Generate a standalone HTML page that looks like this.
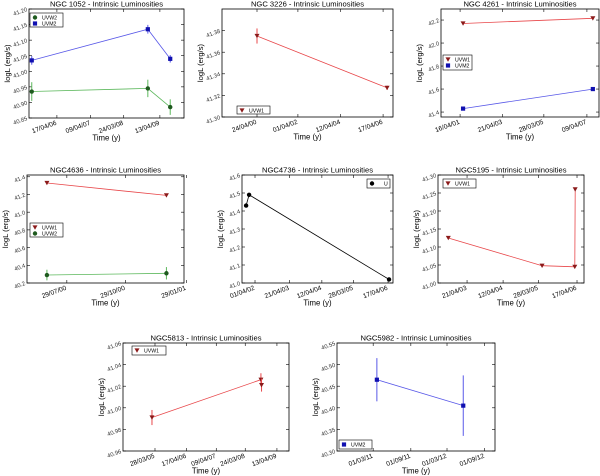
<!DOCTYPE html>
<html><head><meta charset="utf-8">
<style>
html,body{margin:0;padding:0;background:#fff;}
svg{display:block;font-family:"Liberation Sans",sans-serif;}
</style></head>
<body>
<svg id="fig" width="600" height="476" viewBox="0 0 600 476" xmlns="http://www.w3.org/2000/svg"></svg>
<script>
// ---- data (decimal years, logL) ----
const p1Times = [2005.56, 2008.93, 2009.58];
const p1Uvw2 = [40.935, 40.945, 40.885];
const p1Uvw2Err = [0.03, 0.028, 0.025];
const p1Uvm2 = [41.035, 41.135, 41.04];
const p1Uvm2Err = [0.014, 0.014, 0.012];
const p1TickYears = [2006.29, 2007.27, 2008.23, 2009.28];
const p1TickLabels = ["17/04/06", "09/04/07", "24/03/08", "13/04/09"];
const p1YTicks = [40.85, 40.90, 40.95, 41.00, 41.05, 41.10, 41.15, 41.20];

const p2Times = [2000.31, 2006.48];
const p2Uvw1 = [41.375, 41.327];
const p2Uvw1Err = [0.007, 0.002];
const p2TickYears = [2000.31, 2002.25, 2004.28, 2006.29];
const p2TickLabels = ["24/04/00", "01/04/02", "12/04/04", "17/04/06"];
const p2YTicks = [41.30, 41.32, 41.34, 41.36, 41.38];

const p3Times = [2001.43, 2007.55];
const p3Uvw1 = [42.17, 42.215];
const p3Uvm2 = [41.43, 41.60];
const p3TickYears = [2001.29, 2003.30, 2005.24, 2007.27];
const p3TickLabels = ["16/04/01", "21/04/03", "28/03/05", "09/04/07"];
const p3YTicks = [41.4, 41.6, 41.8, 42.0, 42.2];

const p4Times = [2000.485, 2000.995];
const p4Uvw1 = [41.33, 41.19];
const p4Uvw2 = [40.29, 40.31];
const p4Uvw2Err = [0.06, 0.07];
const p4TickYears = [2000.57, 2000.82, 2001.08];
const p4TickLabels = ["29/07/00", "29/10/00", "29/01/01"];
const p4YTicks = [40.2, 40.4, 40.6, 40.8, 41.0, 41.2, 41.4];

const p5Times = [2001.98, 2002.07, 2006.32];
const p5U = [41.43, 41.49, 41.02];
const p5TickYears = [2002.25, 2003.30, 2004.28, 2005.24, 2006.29];
const p5TickLabels = ["01/04/02", "21/04/03", "12/04/04", "28/03/05", "17/04/06"];
const p5YTicks = [41.0, 41.1, 41.2, 41.3, 41.4, 41.5, 41.6];

const p6Times = [2002.79, 2005.34, 2006.23, 2006.24];
const p6Uvw1 = [41.125, 41.048, 41.045, 41.26];
const p6TickYears = [2003.30, 2004.28, 2005.24, 2006.29];
const p6TickLabels = ["21/04/03", "12/04/04", "28/03/05", "17/04/06"];
const p6YTicks = [41.00, 41.05, 41.10, 41.15, 41.20, 41.25, 41.30];

const p7Times = [2005.14, 2008.75, 2008.77];
const p7Uvw1 = [40.991, 41.026, 41.021];
const p7Uvw1Err = [0.007, 0.006, 0.006];
const p7TickYears = [2005.24, 2006.29, 2007.27, 2008.23, 2009.28];
const p7TickLabels = ["28/03/05", "17/04/06", "09/04/07", "24/03/08", "13/04/09"];
const p7YTicks = [40.96, 40.98, 41.00, 41.02, 41.04, 41.06];

const p8Times = [2011.21, 2012.38];
const p8Uvm2 = [40.465, 40.405];
const p8Uvm2Err = [0.05, 0.07];
const p8TickYears = [2011.16, 2011.67, 2012.16, 2012.67];
const p8TickLabels = ["01/03/11", "01/09/11", "01/03/12", "01/09/12"];
const p8YTicks = [40.30, 40.35, 40.40, 40.45, 40.50, 40.55];

// ---- styles ----
const STY = {
  UVW1: {line: "#e8474a", mk: "#8b1a1a", shape: "tri"},
  UVW2: {line: "#5cb85c", mk: "#1e5a1e", shape: "circ"},
  UVM2: {line: "#5858e8", mk: "#1010b0", shape: "sq"},
  U: {line: "#000", mk: "#000", shape: "circ"}
};

const panels = [
  {id:"ngc1052", title:"NGC 1052 - Intrinsic Luminosities", box:[29,9,184,118], xlim:[2005.48,2009.98], ylim:[40.85,41.20], dec:2,
   xt:p1TickYears, xl:p1TickLabels, yt:p1YTicks,
   series:[{n:"UVW2",x:p1Times,y:p1Uvw2,e:p1Uvw2Err},{n:"UVM2",x:p1Times,y:p1Uvm2,e:p1Uvm2Err}], leg:[30,13,33,14]},
  {id:"ngc3226", title:"NGC 3226 - Intrinsic Luminosities", box:[222,9,393,117], xlim:[1998.65,2006.76], ylim:[41.30,41.40], dec:2,
   xt:p2TickYears, xl:p2TickLabels, yt:p2YTicks,
   series:[{n:"UVW1",x:p2Times,y:p2Uvw1,e:p2Uvw1Err}], leg:[237,106,33,8]},
  {id:"ngc4261", title:"NGC 4261 - Intrinsic Luminosities", box:[441,9,599,117], xlim:[2000.39,2007.84], ylim:[41.357,42.296], dec:1,
   xt:p3TickYears, xl:p3TickLabels, yt:p3YTicks,
   series:[{n:"UVW1",x:p3Times,y:p3Uvw1},{n:"UVM2",x:p3Times,y:p3Uvm2}], leg:[443,55,29,15]},
  {id:"ngc4636", title:"NGC4636 - Intrinsic Luminosities", box:[27,175,184,283], xlim:[2000.40,2001.07], ylim:[40.2,41.42], dec:1,
   xt:p4TickYears, xl:p4TickLabels, yt:p4YTicks,
   series:[{n:"UVW1",x:p4Times,y:p4Uvw1},{n:"UVW2",x:p4Times,y:p4Uvw2,e:p4Uvw2Err}], leg:[30,223,33,14]},
  {id:"ngc4736", title:"NGC4736 - Intrinsic Luminosities", box:[242,175,393,283], xlim:[2001.855,2006.44], ylim:[41.0,41.6], dec:1,
   xt:p5TickYears, xl:p5TickLabels, yt:p5YTicks,
   series:[{n:"U",x:p5Times,y:p5U}], leg:[367,179,23,9]},
  {id:"ngc5195", title:"NGC5195 - Intrinsic Luminosities", box:[438,175,584,283], xlim:[2002.51,2006.48], ylim:[41.0,41.3], dec:2,
   xt:p6TickYears, xl:p6TickLabels, yt:p6YTicks,
   series:[{n:"UVW1",x:p6Times,y:p6Uvw1}], leg:[443,179,33,9]},
  {id:"ngc5813", title:"NGC5813 - Intrinsic Luminosities", box:[123,343,289,451], xlim:[2004.18,2009.68], ylim:[40.96,41.06], dec:2,
   xt:p7TickYears, xl:p7TickLabels, yt:p7YTicks,
   series:[{n:"UVW1",x:p7Times,y:p7Uvw1,e:p7Uvw1Err}], leg:[132,346,34,9]},
  {id:"ngc5982", title:"NGC5982 - Intrinsic Luminosities", box:[337,343,495,451], xlim:[2010.67,2012.81], ylim:[40.30,40.55], dec:2,
   xt:p8TickYears, xl:p8TickLabels, yt:p8YTicks,
   series:[{n:"UVM2",x:p8Times,y:p8Uvm2,e:p8Uvm2Err}], leg:[339,440,33,9]}
];

const NS = "http://www.w3.org/2000/svg";
const fig = document.getElementById("fig");
function mk(tag, attrs, parent){
  const el = document.createElementNS(NS, tag);
  for (const k in attrs) el.setAttribute(k, attrs[k]);
  (parent||fig).appendChild(el);
  return el;
}
function marker(g, shape, cx, cy, col){
  let m;
  if (shape === "tri") m = mk("path", {d:`M${cx-2.5},${cy-2.1}L${cx+2.5},${cy-2.1}L${cx},${cy+2.3}Z`, fill:col}, g);
  else if (shape === "sq") m = mk("rect", {x:cx-2.1, y:cy-2.1, width:4.2, height:4.2, fill:col}, g);
  else m = mk("circle", {cx:cx, cy:cy, r:2.2, fill:col}, g);
  return m;
}

panels.forEach(p => {
  const [L,T,R,B] = p.box;
  const sx = v => L + (v - p.xlim[0]) / (p.xlim[1] - p.xlim[0]) * (R - L);
  const sy = v => B - (v - p.ylim[0]) / (p.ylim[1] - p.ylim[0]) * (B - T);
  const g = mk("g", {});
  
  

  const t = mk("text", {x:(L+R)/2, y:T-2.5, "text-anchor":"middle", "font-size":"7.6", fill:"#000"}, g);
  t.textContent = p.title;
  
  

  p.xt.forEach((v,i) => {
    const x = sx(v);
    mk("line", {x1:x, y1:B, x2:x, y2:B-3, stroke:"#000", "stroke-width":0.6}, g);
    mk("line", {x1:x, y1:T, x2:x, y2:T+3, stroke:"#000", "stroke-width":0.6}, g);
    const ty = B + 6.5;
    const tl = mk("text", {x:x, y:ty, "text-anchor":"end", "font-size":"6.6", fill:"#000", transform:`rotate(-20 ${x} ${ty})`}, g);
    tl.textContent = p.xl[i];
    
    
  });
  p.yt.forEach(v => {
    const y = sy(v);
    mk("line", {x1:L, y1:y, x2:L+3, y2:y, stroke:"#000", "stroke-width":0.6}, g);
    mk("line", {x1:R, y1:y, x2:R-3, y2:y, stroke:"#000", "stroke-width":0.6}, g);
    const yl = mk("text", {x:L-2, y:y+2, "text-anchor":"end", "font-size":"5.8", fill:"#333", transform:`rotate(-20 ${L-2} ${y})`}, g);
    yl.textContent = v.toFixed(p.dec);
    
    
  });

  const xa = mk("text", {x:(L+R)/2, y:B+22.5, "text-anchor":"middle", "font-size":"7.8", fill:"#000"}, g);
  xa.textContent = "Time (y)";
  
  
  const ya = mk("text", {x:L-19, y:(T+B)/2, "text-anchor":"middle", "font-size":"7.6", fill:"#000", transform:`rotate(-90 ${L-19} ${(T+B)/2})`}, g);
  ya.textContent = "logL (erg/s)";
  
  

  p.series.forEach(s => {
    const st = STY[s.n];
    const sg = mk("g", {}, g);
    
    
    const pts = s.x.map((v,i) => sx(v).toFixed(1) + "," + sy(s.y[i]).toFixed(1)).join(" ");
    const pl = mk("polyline", {points:pts, fill:"none", stroke:st.line, "stroke-width":0.8}, sg);
    
    
    s.x.forEach((v,i) => {
      const cx = sx(v), cy = sy(s.y[i]);
      if (s.e) {
        const eb = mk("line", {x1:cx, y1:sy(s.y[i]-s.e[i]), x2:cx, y2:sy(s.y[i]+s.e[i]), stroke:st.line, "stroke-width":1}, sg);
        
        
      }
      const m = marker(sg, st.shape, cx, cy, st.mk);
      
      
    });
  });

  mk("rect", {x:L, y:T, width:R-L, height:B-T, fill:"none", stroke:"#000", "stroke-width":0.8}, g);

  const [lx,ly,lw,lh] = p.leg;
  const lg = mk("g", {}, g);
  
  
  mk("rect", {x:lx, y:ly, width:lw, height:lh, fill:"#fff", stroke:"#000", "stroke-width":0.6}, lg);
  p.series.forEach((s,i) => {
    const yy = ly + 4.5 + i*6;
    const le = mk("g", {}, lg);
    
    
    marker(le, STY[s.n].shape, lx+5, yy, STY[s.n].mk);
    const tx = mk("text", {x: s.n === "U" ? lx+lw-6 : lx+12, y:yy+2, "font-size":"5.2", fill:"#000"}, le);
    tx.textContent = s.n;
  });
});
</script>
</body></html>
